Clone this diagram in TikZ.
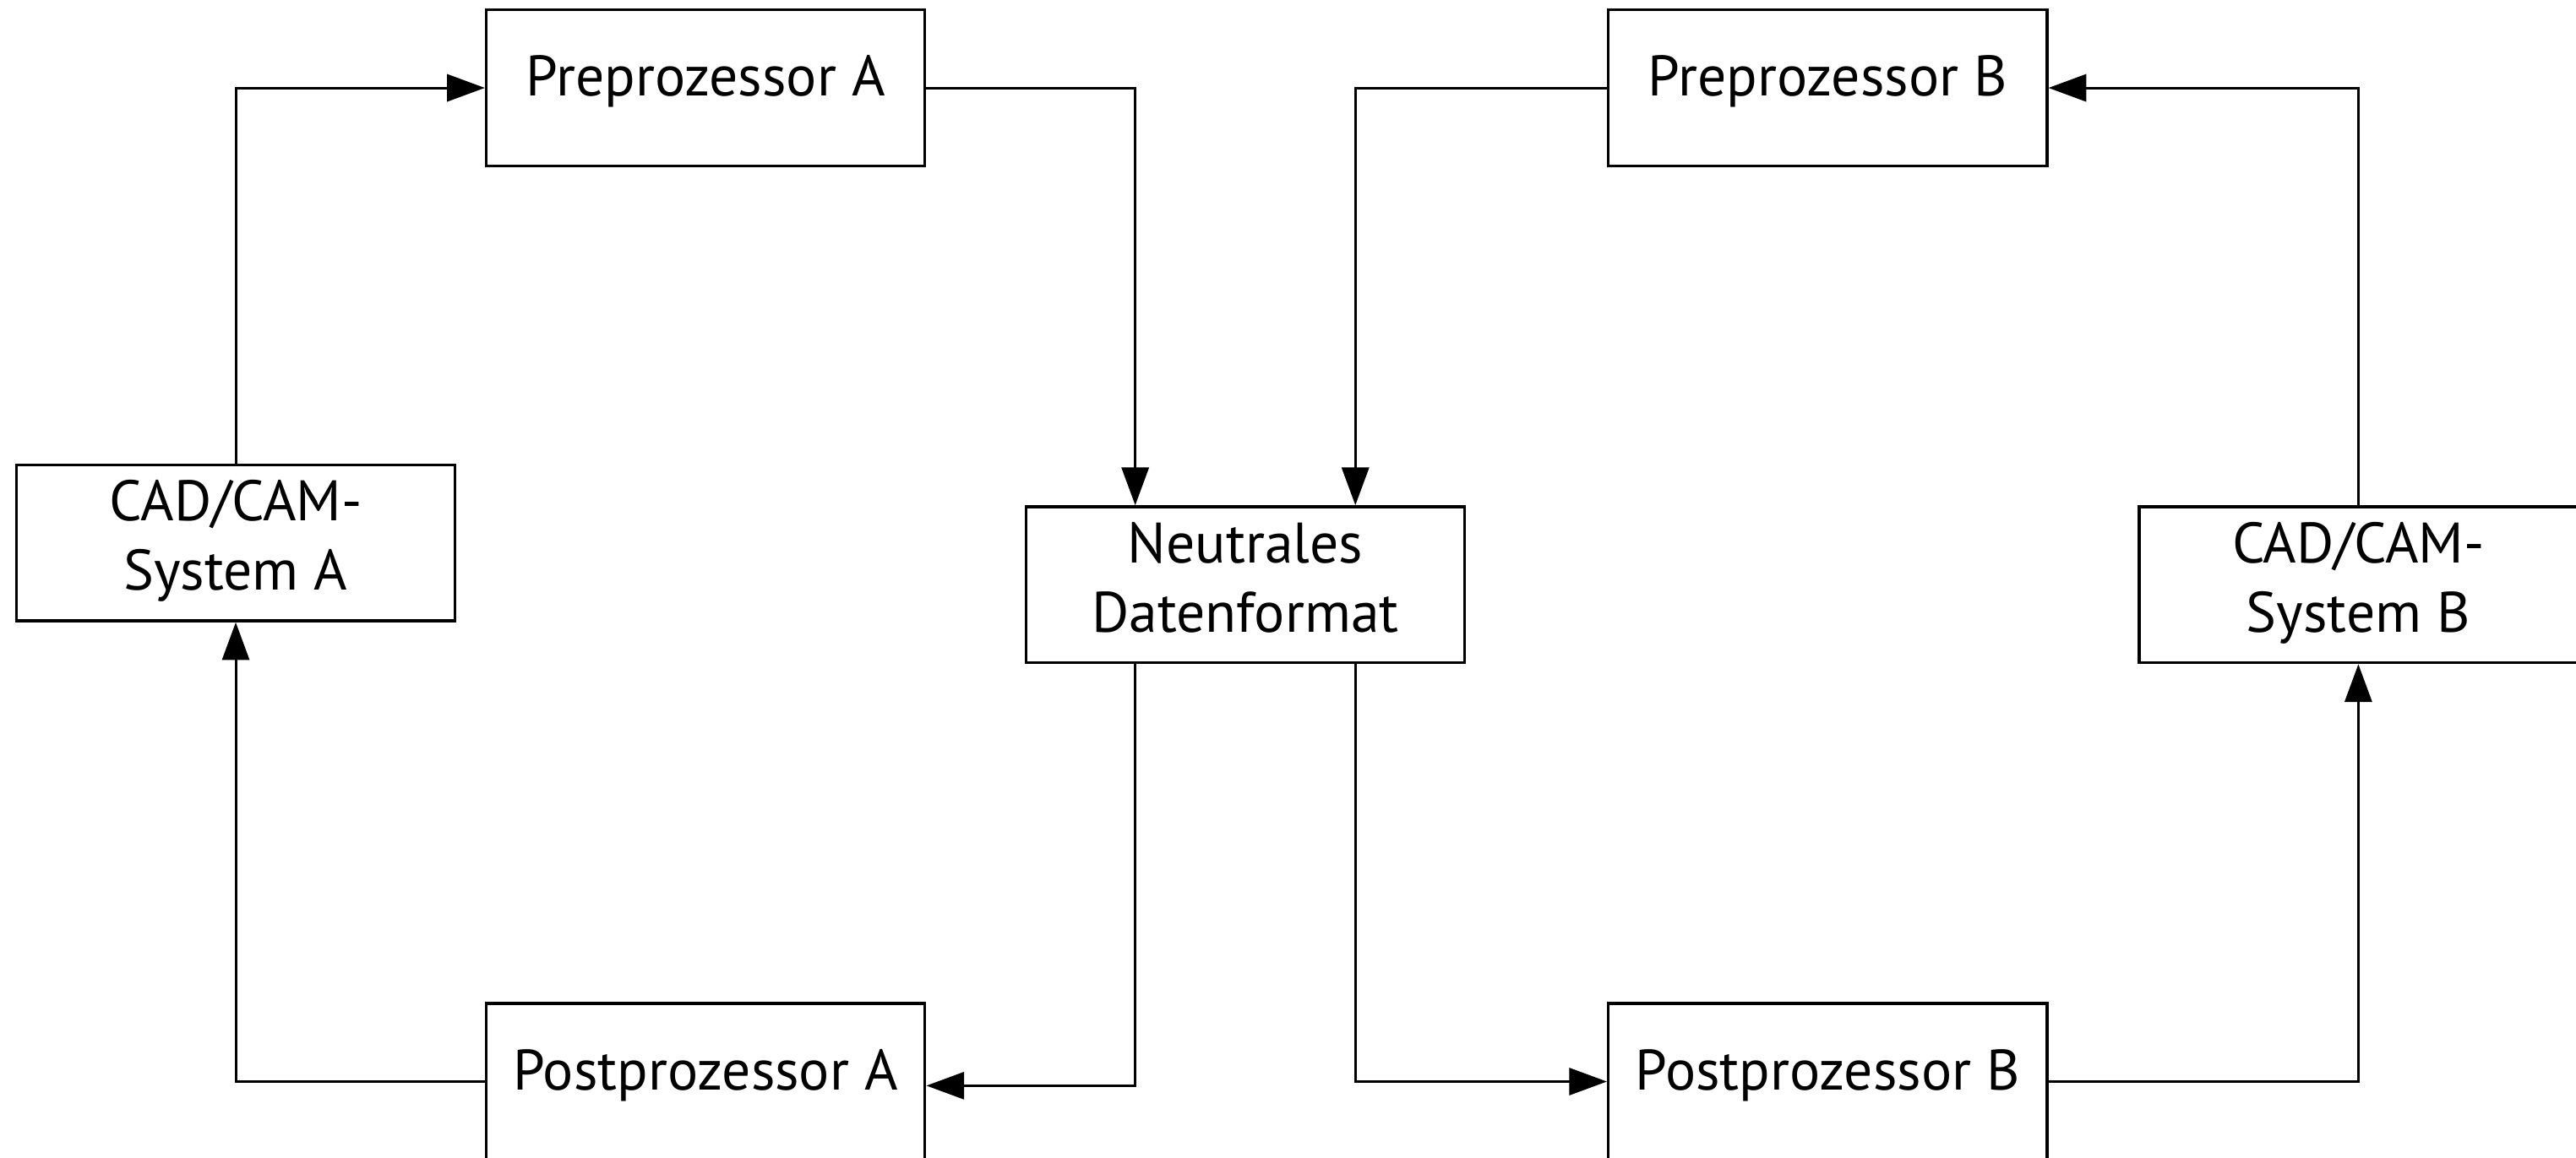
\documentclass[tikz,border=0pt]{standalone}
\usepackage{fontspec}
\setmainfont{PT Sans}
\usetikzlibrary{arrows.meta,calc}
\begin{document}
\begin{tikzpicture}[
        block/.style = {draw, line width=1pt, minimum width=5.34cm, minimum height=1.9cm,
            inner sep=0pt, align=center, font=\fontsize{19.8}{24}\selectfont,
            text height=13pt, text depth=7.3pt},
        block2/.style = {block, text height=40pt},
        flow/.style = {line width=0.9pt, -{Triangle[length=4.6mm, width=3.3mm]}}
    ]
        \useasboundingbox (0, 0) rectangle (31.36, -14.1);
        \node [block] (preA) at (8.59, -1.07) {Preprozessor A};
        \node [block] (preB) at (22.25, -1.07) {Preprozessor B};
        \node [block2] (cadA) at (2.87, -6.61) {CAD/CAM-\\System A};
        \node [block2] (neutral) at (15.16, -7.12) {Neutrales\\Datenformat};
        \node [block2] (cadB) at (28.71, -7.12) {CAD/CAM-\\System B};
        \node [block] (postA) at (8.59, -13.17) {Postprozessor A};
        \node [block] (postB) at (22.25, -13.17) {Postprozessor B};
        \draw [flow] (cadA.north) |- (preA.west);
        \draw [flow] (preA.east) -| ([xshift=-1.34cm]neutral.north);
        \draw [flow] (preB.west) -| ([xshift=1.34cm]neutral.north);
        \draw [flow] (cadB.north) |- (preB.east);
        \draw [flow] ([xshift=-1.34cm]neutral.south) |- ([yshift=-0.05cm]postA.east);
        \draw [flow] ([xshift=1.34cm]neutral.south) |- (postB.west);
        \draw [flow] (postA.west) -| (cadA.south);
        \draw [flow] (postB.east) -| (cadB.south);
    \end{tikzpicture}
\end{document}
